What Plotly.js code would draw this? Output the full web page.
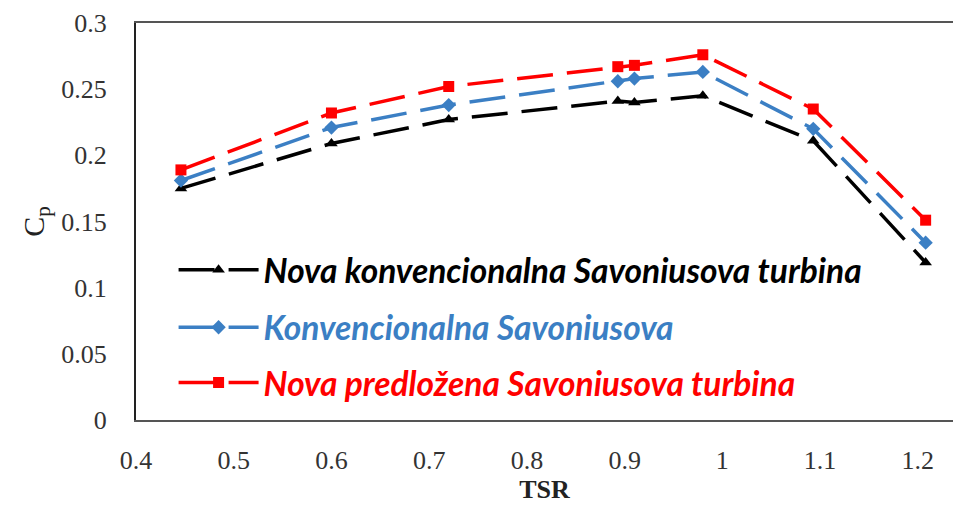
<!DOCTYPE html>
<html>
<head>
<meta charset="utf-8">
<script src="https://cdn.plot.ly/plotly-3.0.1.min.js"></script>
<style>html,body{margin:0;padding:0;background:#fff;}#chart{width:953px;height:506px;}</style>
</head>
<body>
<div id="chart"></div>
<script>
const tsr = [0.446, 0.6, 0.72, 0.893, 0.91, 0.98, 1.093, 1.208];
const cpNovaKonv = [0.175, 0.209, 0.227, 0.241, 0.240, 0.245, 0.211, 0.119];
const cpKonv = [0.181, 0.221, 0.238, 0.256, 0.258, 0.263, 0.220, 0.134];
const cpPredlozena = [0.189, 0.232, 0.252, 0.267, 0.268, 0.276, 0.235, 0.151];
const seriesNames = ["Nova konvencionalna Savoniusova turbina", "Konvencionalna Savoniusova", "Nova predložena Savoniusova turbina"];
const xTicks = [0.4, 0.5, 0.6, 0.7, 0.8, 0.9, 1, 1.1, 1.2];
const xTickText = ["0.4", "0.5", "0.6", "0.7", "0.8", "0.9", "1", "1.1", "1.2"];
const yTicks = [0, 0.05, 0.1, 0.15, 0.2, 0.25, 0.3];
const yTickText = ["0", "0.05", "0.1", "0.15", "0.2", "0.25", "0.3"];

const colors = ["#000000", "#3b7fc4", "#ff0000"];
const symbols = ["triangle-up", "diamond", "square"];
const series = [cpNovaKonv, cpKonv, cpPredlozena];
const legends = ["legend", "legend2", "legend3"];

const traces = series.map((ys, i) => ({
  x: tsr, y: ys, type: "scatter", mode: "lines+markers",
  name: "<b><i>" + seriesNames[i] + "</i></b>",
  legend: legends[i],
  line: {color: colors[i], width: 3.5, dash: "36px,14px"},
  marker: {color: colors[i], symbol: symbols[i], size: 11}
}));

function leg(y, color) {
  return {x: 0.046, y: y, xanchor: "left", yanchor: "middle", bgcolor: "rgba(0,0,0,0)",
    font: {family: "Lato, Open Sans, sans-serif", size: 33.5, color: color},
    itemwidth: 80};
}

const serif = "Liberation Serif, Times New Roman, serif";

const layout = {
  width: 953, height: 506,
  margin: {l: 136, r: 0, t: 23, b: 86},
  paper_bgcolor: "#fff", plot_bgcolor: "#fff",
  showlegend: true,
  legend: leg(0.378, colors[0]),
  legend2: leg(0.233, colors[1]),
  legend3: leg(0.094, colors[2]),
  xaxis: {
    range: [0.4, 1.236], tickvals: xTicks, ticktext: xTickText,
    showgrid: false, zeroline: false, showline: true, linecolor: "#555", linewidth: 2,
    mirror: true, ticks: "outside", ticklen: 16, tickcolor: "rgba(0,0,0,0)",
    tickfont: {family: serif, size: 26, color: "#333"},
    title: {text: "<b>TSR</b>", font: {family: serif, size: 26, color: "#222"}, standoff: 6}
  },
  yaxis: {
    range: [0, 0.3], tickvals: yTicks, ticktext: yTickText,
    showgrid: false, zeroline: false, showline: true, linecolor: "#222", linewidth: 2,
    ticks: "outside", ticklen: 22, tickcolor: "rgba(0,0,0,0)",
    tickfont: {family: serif, size: 26, color: "#333"},
    title: {text: "C<sub>p</sub>", font: {family: serif, size: 30, color: "#222"}, standoff: 8}
  }
};

Plotly.newPlot("chart", traces, layout, {displayModeBar: false, staticPlot: true});
</script>
</body>
</html>
